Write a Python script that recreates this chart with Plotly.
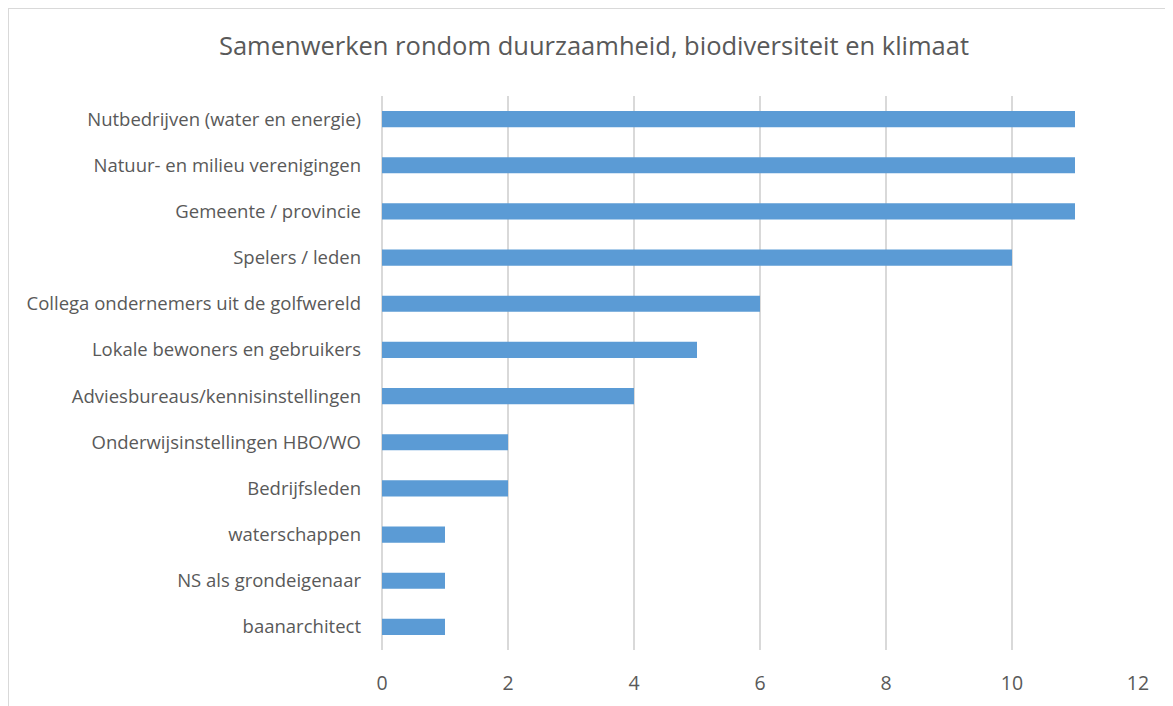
import plotly.graph_objects as go

# data, top to bottom as shown in the chart
categories = [
    "Nutbedrijven (water en energie)",
    "Natuur- en milieu verenigingen",
    "Gemeente / provincie",
    "Spelers / leden",
    "Collega ondernemers uit de golfwereld",
    "Lokale bewoners en gebruikers",
    "Adviesbureaus/kennisinstellingen",
    "Onderwijsinstellingen HBO/WO",
    "Bedrijfsleden",
    "waterschappen",
    "NS als grondeigenaar",
    "baanarchitect",
]
counts = [11, 11, 11, 10, 6, 5, 4, 2, 2, 1, 1, 1]
x_ticks = [0, 2, 4, 6, 8, 10, 12]

# page body has an 8px margin, so keep the figure a bit smaller than the window
W, H = 1165, 698
L, R, T, B = 374, 35, 88, 56

fig = go.Figure()
fig.add_trace(go.Bar(
    x=counts,
    y=categories,
    orientation="h",
    width=0.35,
    marker=dict(color="#5B9BD5", line=dict(width=0)),
))

# light frame around the chart (left and top edges show)
px_w = W - L - R
px_h = H - T - B
fig.add_shape(
    type="rect", xref="paper", yref="paper",
    x0=(0 - L) / px_w, x1=(W + 20 - L) / px_w,
    y0=-(B + 20) / px_h, y1=1 + T / px_h,
    line=dict(color="#D9D9D9", width=2), layer="below",
)

fig.update_layout(
    width=W, height=H,
    margin=dict(l=L, r=R, t=T, b=B),
    paper_bgcolor="white",
    plot_bgcolor="white",
    showlegend=False,
    font=dict(family="Open Sans, sans-serif", color="#595959"),
    title=dict(
        text="Samenwerken rondom duurzaamheid, biodiversiteit en klimaat",
        x=0.503, xanchor="center", y=1 - 38 / H, yanchor="middle",
        font=dict(size=25.5, color="#595959"),
    ),
    xaxis=dict(
        range=[0, 12],
        tickvals=x_ticks,
        automargin=False,
        showgrid=True, gridcolor="#D9D9D9", gridwidth=1.5,
        zeroline=True, zerolinecolor="#D9D9D9", zerolinewidth=1.5,
        showline=False,
        tickfont=dict(size=19.5, color="#595959"),
        ticklabelstandoff=19,
    ),
    yaxis=dict(
        categoryorder="array",
        categoryarray=categories[::-1],
        range=[-0.5, len(categories) - 0.5],
        automargin=False,
        showgrid=False, zeroline=False, showline=False,
        tickfont=dict(size=18.5, color="#595959"),
        ticklabelstandoff=20,
    ),
)

fig.write_html("out.html")
